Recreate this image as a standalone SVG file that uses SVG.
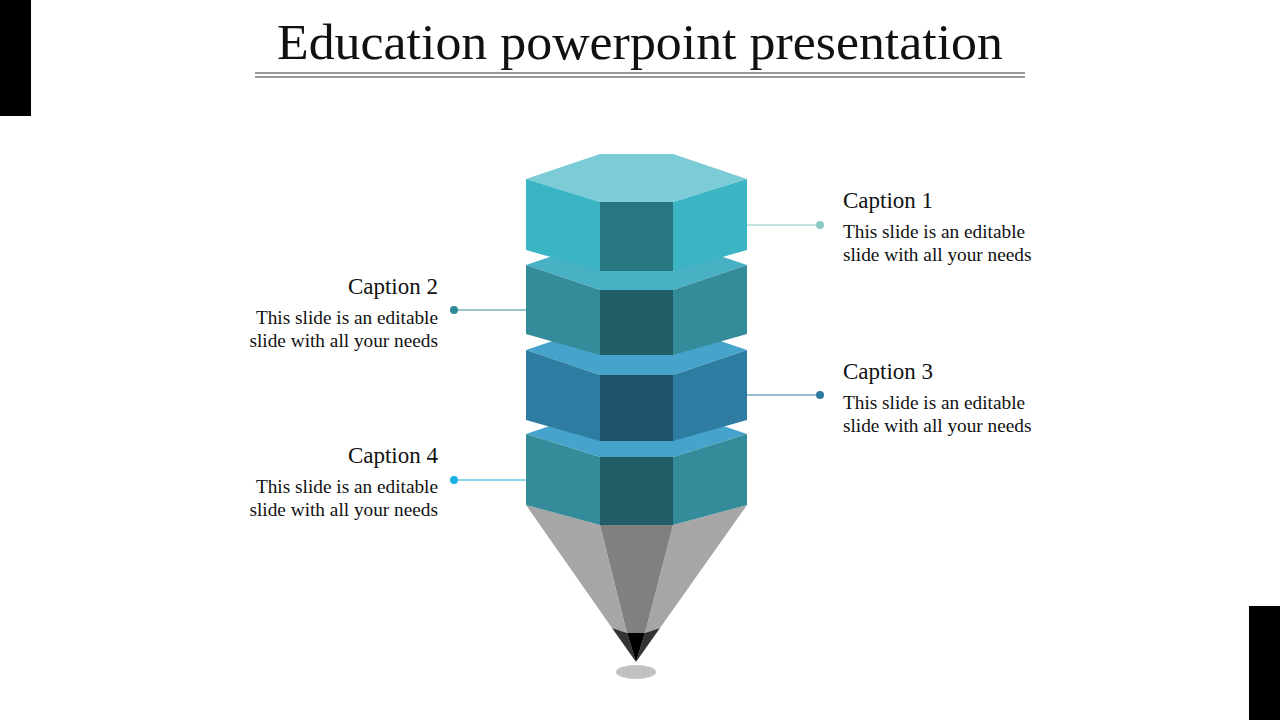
<svg xmlns="http://www.w3.org/2000/svg" width="1280" height="720" viewBox="0 0 1280 720">
<style>
text{font-family:"Liberation Serif","DejaVu Serif",serif;fill:#111}
.cap{font-size:23px}
.body{font-size:19.3px}
</style>
<rect width="1280" height="720" fill="#fff"/>
<rect x="0" y="0" width="31" height="116" fill="#000"/>
<rect x="1249" y="606" width="31" height="114" fill="#000"/>
<text x="640" y="59" text-anchor="middle" font-size="51" textLength="726" lengthAdjust="spacingAndGlyphs">Education powerpoint presentation</text>
<line x1="255" y1="73" x2="1025" y2="73" stroke="#333" stroke-width="1"/>
<line x1="255" y1="77" x2="1025" y2="77" stroke="#333" stroke-width="1"/>
<g id="pencil-tip">
<ellipse cx="636" cy="672" rx="20" ry="7" fill="#999" opacity="0.6"/>
<polygon points="526,505 600,525 627,633 612,628" fill="#a6a6a6"/>
<polygon points="747,505 673,525 645,633 660,628" fill="#a6a6a6"/>
<polygon points="600,525 673,525 645,633 627,633" fill="#808080"/>
<polygon points="612,628 627,633 636,662" fill="#333"/>
<polygon points="660,628 645,633 636,662" fill="#333"/>
<polygon points="627,633 645,633 636,662" fill="#000"/>
</g>
<g id="block4">
<polygon points="526,434 600,409 673,409 747,434 673,457 600,457" fill="#46a3cb"/>
<polygon points="526,434 600,457 600,525 526,505" fill="#348b99"/>
<polygon points="747,434 673,457 673,525 747,505" fill="#348b99"/>
<rect x="600" y="457" width="73" height="68" fill="#215d66"/>
</g>
<g id="block3">
<polygon points="526,350 600,325 673,325 747,350 673,375 600,375" fill="#46a3cb"/>
<polygon points="526,350 600,375 600,441 526,420" fill="#2e7ca2"/>
<polygon points="747,350 673,375 673,441 747,420" fill="#2e7ca2"/>
<rect x="600" y="375" width="73" height="66" fill="#1e526d"/>
</g>
<g id="block2">
<polygon points="526,265 600,240 673,240 747,265 673,290 600,290" fill="#48b1c4"/>
<polygon points="526,265 600,290 600,355 526,334" fill="#348b99"/>
<polygon points="747,265 673,290 673,355 747,334" fill="#348b99"/>
<rect x="600" y="290" width="73" height="65" fill="#215d66"/>
</g>
<g id="block1">
<polygon points="526,179 600,154 673,154 747,179 673,202 600,202" fill="#7bccd7"/>
<polygon points="526,179 600,202 600,271 526,250" fill="#3bb4c4"/>
<polygon points="747,179 673,202 673,271 747,250" fill="#3bb4c4"/>
<rect x="600" y="202" width="73" height="69" fill="#277680"/>
</g>
<g id="connectors">
<line x1="747" y1="225" x2="820" y2="225" stroke="#8ccac4" stroke-width="1"/>
<circle cx="820" cy="225" r="4" fill="#8ccac4"/>
<line x1="454" y1="310" x2="526" y2="310" stroke="#2f8a96" stroke-width="1"/>
<circle cx="454" cy="310" r="4" fill="#2f8a96"/>
<line x1="747" y1="395" x2="820" y2="395" stroke="#2e7aa0" stroke-width="1"/>
<circle cx="820" cy="395" r="4" fill="#2e7aa0"/>
<line x1="454" y1="480" x2="526" y2="480" stroke="#1ab0e0" stroke-width="1"/>
<circle cx="454" cy="480" r="4" fill="#1ab0e0"/>
</g>
<g id="caption1">
<text class="cap" x="843" y="208">Caption 1</text>
<text class="body" x="843" y="238">This slide is an editable</text>
<text class="body" x="843" y="261">slide with all your needs</text>
</g>
<g id="caption2" text-anchor="end">
<text class="cap" x="438" y="294">Caption 2</text>
<text class="body" x="438" y="324">This slide is an editable</text>
<text class="body" x="438" y="347">slide with all your needs</text>
</g>
<g id="caption3">
<text class="cap" x="843" y="379">Caption 3</text>
<text class="body" x="843" y="409">This slide is an editable</text>
<text class="body" x="843" y="432">slide with all your needs</text>
</g>
<g id="caption4" text-anchor="end">
<text class="cap" x="438" y="463">Caption 4</text>
<text class="body" x="438" y="493">This slide is an editable</text>
<text class="body" x="438" y="516">slide with all your needs</text>
</g>
</svg>
